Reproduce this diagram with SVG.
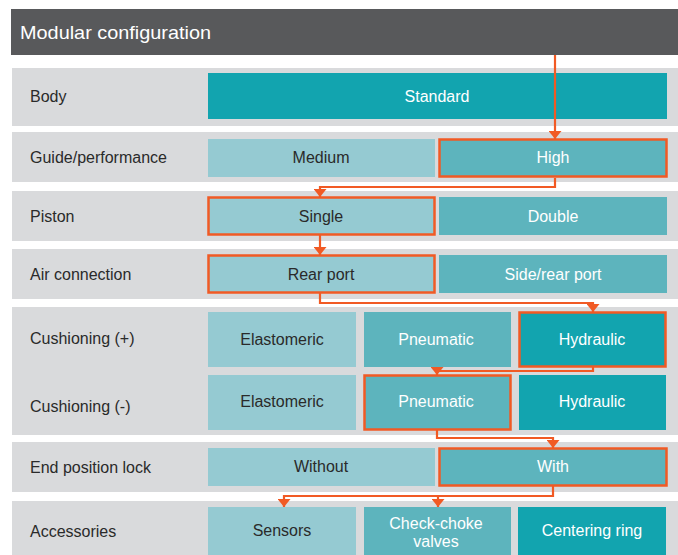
<svg xmlns="http://www.w3.org/2000/svg" width="678" height="555" viewBox="0 0 678 555">
<style>
text{font-family:"Liberation Sans",Arial,sans-serif;font-size:16px}
.row{fill:#d9dadc}
.lbl{fill:#2a2a2a}
.l{fill:#95cad2}
.m{fill:#5db4bd}
.d{fill:#12a4af}
.tl{fill:#2a2a2a;text-anchor:middle}
.tw{fill:#ffffff;text-anchor:middle}
.sel{fill:none;stroke:#f15a24;stroke-width:2.5}
.con{fill:none;stroke:#f15a24;stroke-width:2.2}
</style>
<defs>
<marker id="ah" markerUnits="userSpaceOnUse" markerWidth="8" markerHeight="13" refX="8" refY="6.5" orient="auto">
<path d="M0,0 L8,6.5 L0,13 z" fill="#f15a24"/>
</marker>
</defs>
<rect width="678" height="555" fill="#ffffff"/>
<g id="header">
<rect x="11" y="9" width="667" height="46" fill="#58595b"/>
<text x="20" y="39" fill="#ffffff" style="font-size:18.5px" textLength="191" lengthAdjust="spacingAndGlyphs">Modular configuration</text>
</g>
<g id="body">
<rect class="row" x="12" y="68" width="666" height="58"/>
<text class="lbl" x="30" y="102">Body</text>
<rect class="d" x="208" y="73" width="459" height="46"/>
<text class="tw" x="437" y="102">Standard</text>
</g>
<g id="guide">
<rect class="row" x="12" y="132" width="666" height="50"/>
<text class="lbl" x="30" y="163">Guide/performance</text>
<rect class="l" x="208" y="139" width="227" height="38"/>
<text class="tl" x="321" y="163">Medium</text>
<rect class="m" x="439" y="139" width="228" height="38"/>
<rect class="sel" x="439.5" y="139.5" width="227" height="37"/>
<text class="tw" x="553" y="163">High</text>
</g>
<g id="piston">
<rect class="row" x="12" y="191" width="666" height="50"/>
<text class="lbl" x="30" y="222">Piston</text>
<rect class="l" x="208" y="197" width="227" height="38"/>
<rect class="sel" x="208.5" y="197.5" width="226" height="37"/>
<text class="tl" x="321" y="222">Single</text>
<rect class="m" x="439" y="197" width="228" height="38"/>
<text class="tw" x="553" y="222">Double</text>
</g>
<g id="air">
<rect class="row" x="12" y="249" width="666" height="50"/>
<text class="lbl" x="30" y="280">Air connection</text>
<rect class="l" x="208" y="255" width="227" height="38"/>
<rect class="sel" x="208.5" y="255.5" width="226" height="37"/>
<text class="tl" x="321" y="280">Rear port</text>
<rect class="m" x="439" y="255" width="228" height="38"/>
<text class="tw" x="553" y="280">Side/rear port</text>
</g>
<g id="cushioning">
<rect class="row" x="12" y="307" width="666" height="128"/>
<text class="lbl" x="30" y="344">Cushioning (+)</text>
<rect class="l" x="208" y="312" width="148" height="55"/>
<text class="tl" x="282" y="345">Elastomeric</text>
<rect class="m" x="364" y="312" width="147" height="55"/>
<text class="tw" x="436" y="345">Pneumatic</text>
<rect class="d" x="519" y="312" width="147" height="55"/>
<rect class="sel" x="519.5" y="312.5" width="146" height="54"/>
<text class="tw" x="592" y="345">Hydraulic</text>
<text class="lbl" x="30" y="412">Cushioning (-)</text>
<rect class="l" x="208" y="375" width="148" height="55"/>
<text class="tl" x="282" y="407">Elastomeric</text>
<rect class="m" x="364" y="375" width="147" height="55"/>
<rect class="sel" x="364.5" y="375.5" width="146" height="54"/>
<text class="tw" x="436" y="407">Pneumatic</text>
<rect class="d" x="519" y="375" width="147" height="55"/>
<text class="tw" x="592" y="407">Hydraulic</text>
</g>
<g id="endlock">
<rect class="row" x="12" y="442" width="666" height="50"/>
<text class="lbl" x="30" y="473">End position lock</text>
<rect class="l" x="208" y="448" width="227" height="38"/>
<text class="tl" x="321" y="472">Without</text>
<rect class="m" x="439" y="448" width="228" height="38"/>
<rect class="sel" x="439.5" y="448.5" width="227" height="37"/>
<text class="tw" x="553" y="472">With</text>
</g>
<g id="accessories">
<rect class="row" x="12" y="501" width="666" height="54"/>
<text class="lbl" x="30" y="537">Accessories</text>
<rect class="l" x="208" y="507" width="148" height="48"/>
<text class="tl" x="282" y="536">Sensors</text>
<rect class="m" x="364" y="507" width="147" height="48"/>
<text class="tw" x="436" y="529">Check-choke</text>
<text class="tw" x="436" y="547">valves</text>
<rect class="d" x="518" y="507" width="148" height="48"/>
<text class="tw" x="592" y="536">Centering ring</text>
</g>
<g id="connectors">
<path class="con" d="M555,55 V139" marker-end="url(#ah)"/>
<path class="con" d="M555,178 V187 H320 V197" marker-end="url(#ah)"/>
<path class="con" d="M320,235 V255" marker-end="url(#ah)"/>
<path class="con" d="M320,293 V303 H593 V312" marker-end="url(#ah)"/>
<path class="con" d="M593,367 V371 H437 V375" marker-end="url(#ah)"/>
<path class="con" d="M437,430 V438 H553 V448" marker-end="url(#ah)"/>
<path class="con" d="M553,486 V496 H284 V507" marker-end="url(#ah)"/>
<path class="con" d="M438,496 V507" marker-end="url(#ah)"/>
</g>
</svg>
